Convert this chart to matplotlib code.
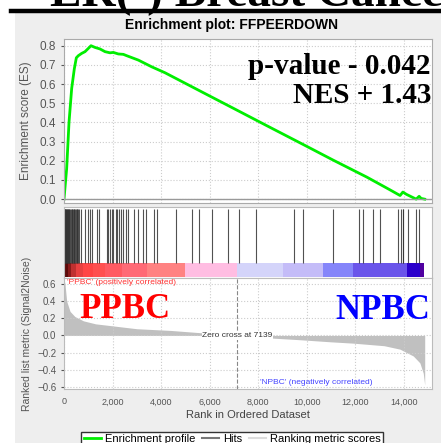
import matplotlib
matplotlib.use('Agg')
import matplotlib.pyplot as plt
from matplotlib.patches import Rectangle
from matplotlib.lines import Line2D
from matplotlib.ticker import FuncFormatter

plt.rcParams['font.family'] = ['Liberation Sans', 'DejaVu Sans']

# running enrichment score
es_rank = [0, 110, 206, 316, 425, 508, 590, 728, 865, 1002, 1112, 1277, 1483, 1689,
           1894, 2031, 2237, 2443, 2580, 3061, 3610, 4159, 5600, 7000, 8350, 10000,
           11090, 12466, 13400, 13836, 13950, 14100, 14500, 14620, 14700, 14850]
es_score = [0.0, 0.16, 0.40, 0.577, 0.68, 0.737, 0.748, 0.76, 0.769, 0.786, 0.80, 0.791,
            0.783, 0.769, 0.763, 0.765, 0.757, 0.755, 0.748, 0.725, 0.69, 0.659, 0.564,
            0.472, 0.383, 0.275, 0.203, 0.115, 0.05, 0.019, 0.037, 0.025, 0.0, 0.015,
            0.004, 0.0]

# positions of gene set members in the ranked list
hit_ranks = [0, 12, 25, 40, 55, 70, 90, 110, 130, 150, 175, 200, 225, 250, 280, 310,
             340, 370, 400, 430, 460, 490, 520, 545, 560,
             618, 700, 865, 1002, 1057, 1139, 1345, 1441, 1757, 1826, 1894, 1963, 2031,
             2128, 2196, 2265, 2333, 2443, 2539, 2649, 2896, 3033, 3267, 3363, 3720,
             3816, 4598, 5285, 5559, 6081, 6740, 7221, 7907, 9484, 9828, 11090, 12160,
             12300, 12738, 13012, 13767, 13877, 13946, 13960, 14166, 14496, 14619]

# ranked list metric (signal2noise)
metric_rank = [0, 41, 110, 250, 450, 800, 1300, 1900, 3000, 4400, 5600, 7139, 8500,
               9700, 11000, 11900, 13180, 13830, 14380, 14650, 14790, 14850]
metric_value = [0.66, 0.6, 0.4, 0.28, 0.22, 0.17, 0.135, 0.115, 0.078, 0.058, 0.032, 0.0,
                -0.03, -0.05, -0.075, -0.09, -0.12, -0.16, -0.24, -0.32, -0.44, -0.58]

# heat bar blocks under the hits
bar_edges = [0, 150, 300, 500, 800, 1200, 1700, 2400, 3400, 4980, 7139, 9000, 10680,
             11910, 14140, 14660, 14840]
bar_colors = ['#5c0a0a', '#8a1a1a', '#c03030', '#e84040', '#ff4545', '#ff5050', '#ff5a62',
              '#ff6a76', '#ff8282', '#ffbde2', '#d4d4fa', '#c4bcf8', '#8585fa', '#6a55ea',
              '#2a00cc', '#5000a0']

zero_cross = 7139
x_max = 15150
W, H = 441, 443


def fx(x):
    return x / W


def fy(y):
    return 1 - y / H


fig = plt.figure(figsize=(W / 100, H / 100), dpi=100)
fig.patch.set_facecolor('white')
fig.patches.append(Rectangle((fx(15), 0), fx(W - 15), fy(13), transform=fig.transFigure,
                             facecolor='#eeeeee', edgecolor='none', zorder=-10))
fig.add_artist(Line2D([fx(11), 1], [fy(11), fy(11)], color='black', lw=3.2,
                      transform=fig.transFigure))
# big page heading, mostly cropped away at the top edge
fig.text(fx(50), fy(6), 'ER(-) Breast Cancer', fontsize=34, fontweight='bold',
         family='Liberation Serif', va='baseline', ha='left')

fig.text(fx(232), fy(25), 'Enrichment plot: FFPEERDOWN', fontsize=10, fontweight='bold',
         ha='center', va='center')

gray = '#555555'

# enrichment score panel
ax1 = fig.add_axes([fx(64), fy(203), fx(368), (203 - 39) / H])
ax1.plot(es_rank, es_score, color='#00ee00', lw=2)
ax1.axhline(0, color='#999999', lw=1)
ax1.set_xlim(0, x_max)
ax1.set_ylim(-0.02, 0.835)
ax1.set_yticks([0.0, 0.1, 0.2, 0.3, 0.4, 0.5, 0.6, 0.7, 0.8])
ax1.set_xticks(range(0, 15000, 2000))
ax1.tick_params(axis='y', labelsize=8.5, colors=gray, length=2)
ax1.tick_params(axis='x', labelbottom=False, length=0)
ax1.grid(True, ls=':', color='#cccccc', lw=0.8)
ax1.set_ylabel('Enrichment score (ES)', fontsize=8.5, color=gray)
ax1.yaxis.set_label_coords(fx(32 - 64) / fx(368), 0.5)
for s in ax1.spines.values():
    s.set_color('#aaaaaa')

# hits panel
ax2 = fig.add_axes([fx(64), fy(278), fx(368), (278 - 207) / H])
ax2.vlines(hit_ranks, 0.21, 0.97, color='#333333', lw=0.8, alpha=0.85)
lefts = bar_edges[:-1]
widths = [b - a for a, b in zip(bar_edges[:-1], bar_edges[1:])]
ax2.bar(lefts, 0.19, width=widths, bottom=0.02, align='edge', color=bar_colors, lw=0)
ax2.set_xlim(0, x_max)
ax2.set_ylim(0, 1)
ax2.set_xticks([])
ax2.set_yticks([])
for s in ax2.spines.values():
    s.set_color('#bbbbbb')

# ranked list metric panel
ax3 = fig.add_axes([fx(64), fy(389), fx(368), (389 - 278) / H])
ax3.fill_between(metric_rank, metric_value, 0, color='#c0c0c0', lw=0)
ax3.axvline(zero_cross, color='#888888', ls='--', lw=0.8)
ax3.set_xlim(0, x_max)
ax3.set_ylim(-0.625, 0.67)
ax3.set_yticks([-0.6, -0.4, -0.2, 0.0, 0.2, 0.4, 0.6])
ax3.set_xticks(range(0, 15000, 2000))
ax3.xaxis.set_major_formatter(FuncFormatter(lambda v, p: f'{int(v):,}'))
ax3.tick_params(axis='y', labelsize=7, colors=gray, length=2)
ax3.tick_params(axis='x', labelsize=6.5, colors=gray, length=0, pad=6)
ax3.grid(True, ls=':', color='#cccccc', lw=0.8)
ax3.set_xlabel('Rank in Ordered Dataset', fontsize=8, color='#444444', labelpad=3)
ax3.set_ylabel('Ranked list metric (Signal2Noise)', fontsize=7.5, color=gray)
ax3.yaxis.set_label_coords(fx(32 - 64) / fx(368), 0.5)
for s in ax3.spines.values():
    s.set_color('#bbbbbb')
ax3.text(zero_cross, 0.0, 'Zero cross at 7139', fontsize=6, color='#333333', ha='center',
         va='center', bbox=dict(facecolor='white', edgecolor='none', pad=0.5))

fig.text(fx(67), fy(282), "'PPBC' (positively correlated)", fontsize=6, color='#ff3333',
         ha='left', va='center')
fig.text(fx(316), fy(383), "'NPBC' (negatively correlated)", fontsize=6, color='#4444ff',
         ha='center', va='center')

fig.text(fx(431), fy(74), 'p-value - 0.042', fontsize=21, fontweight='bold',
         family='Liberation Serif', ha='right', va='baseline')
fig.text(fx(431), fy(103), 'NES + 1.43', fontsize=21, fontweight='bold',
         family='Liberation Serif', ha='right', va='baseline')
fig.text(fx(79), fy(318), 'PPBC', fontsize=25, fontweight='bold', color='red',
         family='Liberation Serif', ha='left', va='baseline')
fig.text(fx(430), fy(319), 'NPBC', fontsize=25, fontweight='bold', color='blue',
         family='Liberation Serif', ha='right', va='baseline')

handles = [Line2D([], [], color='#00ee00', lw=2),
           Line2D([], [], color='#777777', lw=1.5),
           Line2D([], [], color='#dddddd', lw=1.5)]
fig.legend(handles, ['Enrichment profile', 'Hits', 'Ranking metric scores'],
           loc='upper center', bbox_to_anchor=(fx(232), fy(426)), ncol=3, fontsize=8,
           frameon=True, fancybox=False, edgecolor='#333333', framealpha=1,
           handlelength=1.6, handletextpad=0.3, columnspacing=0.6, borderpad=0.2)

fig.savefig('out.png', dpi=100)
